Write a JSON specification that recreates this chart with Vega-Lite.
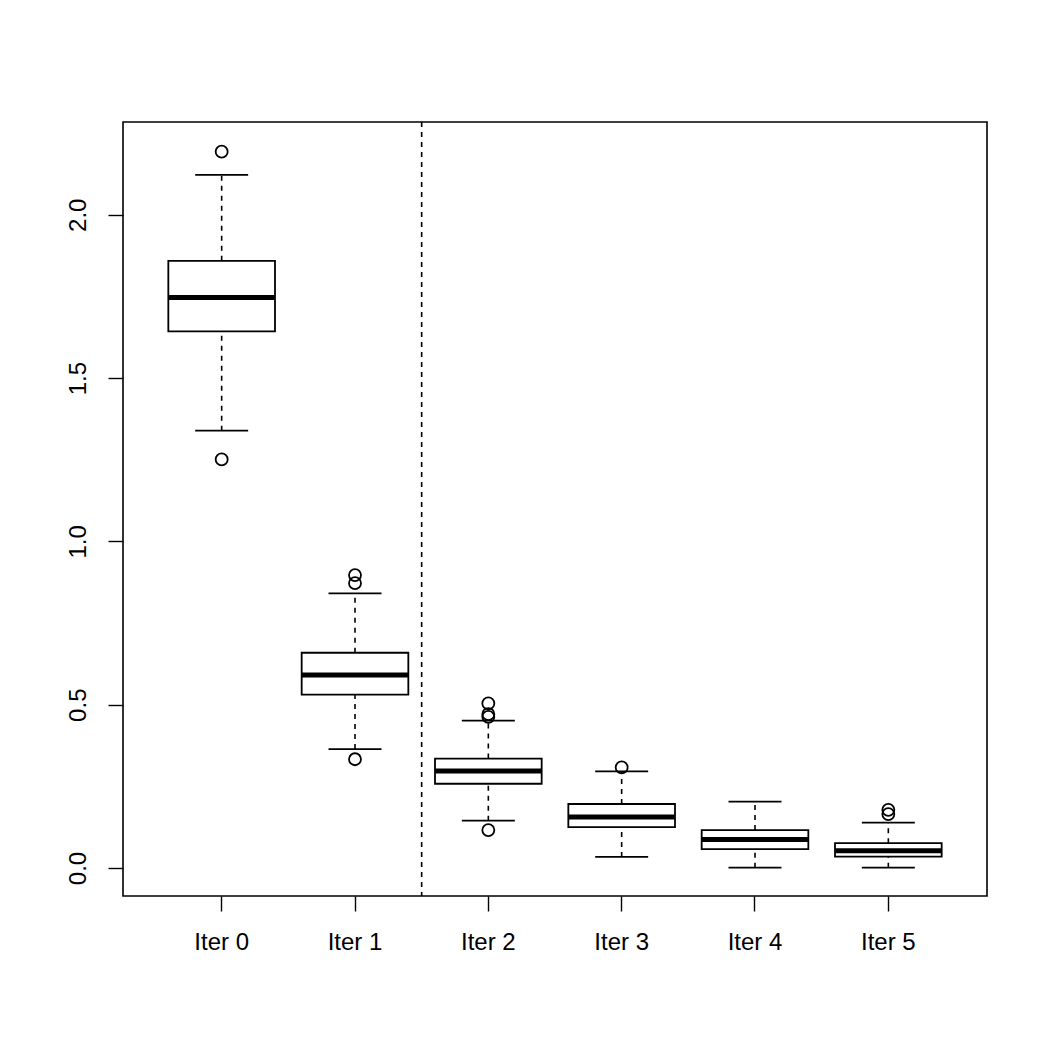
{
  "$schema": "https://vega.github.io/schema/vega-lite/v6.json",
  "autosize": "none",
  "width": 864,
  "height": 774,
  "padding": {"left": 123, "top": 122, "right": 63, "bottom": 154},
  "background": "white",
  "config": {
    "view": {"stroke": "black", "strokeWidth": 1.6},
    "font": "Liberation Sans",
    "axis": {"domain": false, "grid": false, "title": null, "tickColor": "black", "tickWidth": 1.4, "tickSize": 15, "labelColor": "black", "labelFontSize": 24, "labelFont": "Liberation Sans"}
  },
  "datasets": {
    "boxes": [
      {"iter": "Iter 0", "lower": 1.339, "q1": 1.643, "median": 1.747, "q3": 1.859, "upper": 2.122},
      {"iter": "Iter 1", "lower": 0.364, "q1": 0.531, "median": 0.591, "q3": 0.659, "upper": 0.841},
      {"iter": "Iter 2", "lower": 0.145, "q1": 0.258, "median": 0.297, "q3": 0.335, "upper": 0.451},
      {"iter": "Iter 3", "lower": 0.034, "q1": 0.125, "median": 0.156, "q3": 0.196, "upper": 0.296},
      {"iter": "Iter 4", "lower": 0.001, "q1": 0.058, "median": 0.087, "q3": 0.116, "upper": 0.203},
      {"iter": "Iter 5", "lower": 0.001, "q1": 0.035, "median": 0.053, "q3": 0.076, "upper": 0.139}
    ],
    "outliers": [
      {"iter": "Iter 0", "value": 2.193},
      {"iter": "Iter 0", "value": 1.251},
      {"iter": "Iter 1", "value": 0.897},
      {"iter": "Iter 1", "value": 0.872},
      {"iter": "Iter 1", "value": 0.333},
      {"iter": "Iter 2", "value": 0.504},
      {"iter": "Iter 2", "value": 0.471},
      {"iter": "Iter 2", "value": 0.463},
      {"iter": "Iter 2", "value": 0.116},
      {"iter": "Iter 3", "value": 0.308},
      {"iter": "Iter 5", "value": 0.178},
      {"iter": "Iter 5", "value": 0.165}
    ],
    "divider": [{"iter": "Iter 1"}]
  },
  "encoding": {
    "x": {
      "field": "iter", "type": "nominal",
      "scale": {"domain": ["Iter 0", "Iter 1", "Iter 2", "Iter 3", "Iter 4", "Iter 5"], "paddingInner": 0, "paddingOuter": 0.24},
      "axis": {"labelAngle": 0, "labelBaseline": "top", "labelPadding": 19, "labelAlign": "center"}
    }
  },
  "layer": [
    {
      "data": {"name": "boxes"},
      "mark": {"type": "rule", "color": "black", "strokeWidth": 1.6, "strokeDash": [5, 5]},
      "encoding": {
        "y": {"field": "q3", "type": "quantitative",
          "scale": {"domain": [-0.0857, 2.284], "nice": false, "zero": false},
          "axis": {"values": [0, 0.5, 1, 1.5, 2], "format": ".1f", "labelAngle": -90, "labelAlign": "center", "labelBaseline": "alphabetic", "labelPadding": 23}},
        "y2": {"field": "upper"}
      }
    },
    {
      "data": {"name": "boxes"},
      "mark": {"type": "rule", "color": "black", "strokeWidth": 1.6, "strokeDash": [5, 5]},
      "encoding": {
        "y": {"field": "lower", "type": "quantitative"},
        "y2": {"field": "q1"}
      }
    },
    {
      "data": {"name": "boxes"},
      "mark": {"type": "bar", "width": {"band": 0.8}, "fill": "white", "stroke": "black", "strokeWidth": 1.8, "opacity": 1},
      "encoding": {
        "y": {"field": "q1", "type": "quantitative"},
        "y2": {"field": "q3"}
      }
    },
    {
      "data": {"name": "boxes"},
      "mark": {"type": "tick", "color": "black", "size": 106, "thickness": 5, "opacity": 1},
      "encoding": {
        "y": {"field": "median", "type": "quantitative"}
      }
    },
    {
      "data": {"name": "boxes"},
      "mark": {"type": "tick", "color": "black", "size": 53, "thickness": 1.8, "opacity": 1},
      "encoding": {
        "y": {"field": "upper", "type": "quantitative"}
      }
    },
    {
      "data": {"name": "boxes"},
      "mark": {"type": "tick", "color": "black", "size": 53, "thickness": 1.8, "opacity": 1},
      "encoding": {
        "y": {"field": "lower", "type": "quantitative"}
      }
    },
    {
      "data": {"name": "outliers"},
      "mark": {"type": "point", "shape": "circle", "filled": false, "size": 144, "stroke": "black", "strokeWidth": 1.8, "opacity": 1},
      "encoding": {
        "y": {"field": "value", "type": "quantitative"}
      }
    },
    {
      "data": {"name": "divider"},
      "mark": {"type": "rule", "color": "black", "strokeWidth": 1.6, "strokeDash": [5, 5]},
      "encoding": {
        "x": {"field": "iter", "type": "nominal", "bandPosition": 1}
      }
    }
  ]
}
